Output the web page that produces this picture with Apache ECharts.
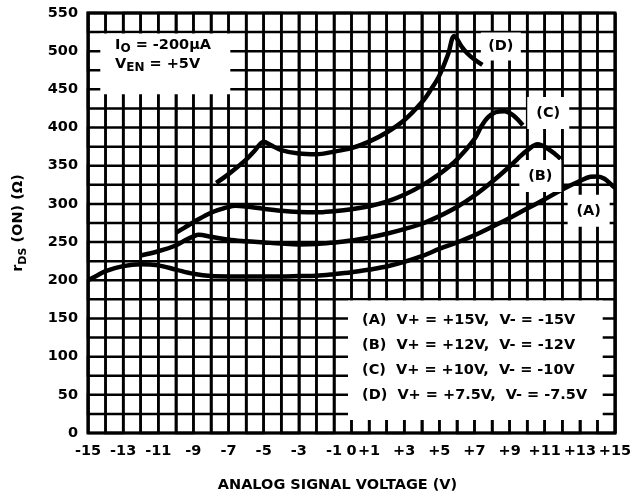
<!DOCTYPE html>
<html>
<head>
<meta charset="utf-8">
<script src="https://cdn.jsdelivr.net/npm/echarts@6/dist/echarts.min.js"></script>
<style>html,body{margin:0;padding:0;background:#fff}#c{width:636px;height:498px}</style>
</head>
<body>
<div id="c"></div>
<script>
// ---- data ----
const xTickLabels = ['-15','-13','-11','-9','-7','-5','-3','-1','0','+1','+3','+5','+7','+9','+11','+13','+15'];
const yTickLabels = ['0','50','100','150','200','250','300','350','400','450','500','550'];

const curveA = [[-15,200],[-14.5,206],[-14,212],[-13,218.5],[-12,221],[-11,219.5],[-10,214],[-9,208.5],[-8,205.5],[-7,205],[-6,205],[-5,205],[-4,205],[-3,205.5],[-2,206],[-1,208],[0,210.5],[1,214],[2,218],[3,224],[4,231.5],[5,241],[6,249.5],[7,259],[8,270],[9,281.5],[10,294],[11,306],[12,319],[13,330],[13.6,335.5],[14,336],[14.4,333],[14.8,325],[15,321]];
const curveB = [[-12,232.5],[-11,238],[-10,245.5],[-9.5,252],[-9,257.5],[-8.7,259.5],[-8,257],[-7,253],[-6,251],[-5,249.5],[-4,248],[-3,247],[-2,247.5],[-1,249.5],[0,252],[1,256],[2,261],[3,267],[4,274],[5,284],[6,296],[7,311],[8,329],[9,349],[9.5,360],[10,370],[10.6,378],[11.2,372],[11.6,365],[11.9,359]];
const curveC = [[-10,262],[-9.5,269],[-9,276],[-8,288.5],[-7,296],[-6.6,297.5],[-6,296.5],[-5,293.5],[-4,291],[-3,289.5],[-2,289],[-1,290.5],[0,293],[1,297],[2,303],[3,312],[4,324],[5,339],[6,358],[7,385],[7.4,402],[7.75,413],[8.2,420],[8.7,421.5],[9.2,416],[9.75,403]];
const curveD = [[-7.7,327.5],[-7,339],[-6,358],[-5.5,370],[-5,381.5],[-4.6,377],[-4,370.5],[-3,366],[-2,365],[-1,368.5],[0,373],[1,381.5],[2,393.5],[3,409.5],[4,433],[4.5,449],[5,468],[5.5,496],[5.85,520],[6.3,505],[6.6,497],[7,489],[7.45,482]];

const curveNames = ['(A)','(B)','(C)','(D)'];
const curveLabelAt = [[13.5,291],[10.75,336.5],[11.2,419],[8.5,506]];
const legendLines = ['(A)  V+ = +15V,  V- = -15V','(B)  V+ = +12V,  V- = -12V','(C)  V+ = +10V,  V- = -10V','(D)  V+ = +7.5V,  V- = -7.5V'];
const infoBoxArea = [[-14.3,523],[-6.9,443.5]];
const legendBoxArea = [[-0.2,173.5],[14.3,17]];

// axis ranges / grid spacing
const xMin = -15, xMax = 15, xStep = 1;
const yMin = 0, yMax = 550, yStep = 25;

// ---- chart ----
const F = 'DejaVu Sans';
const FS = 14.5;
const GW = 2.5;
const chart = echarts.init(document.getElementById('c'));
const xMap = {}; xTickLabels.forEach(s => { xMap[Number(s)] = s; });
const yMap = {}; yTickLabels.forEach(s => { yMap[Number(s)] = s; });

const xTicks = [];
for (let v = xMin; v <= xMax; v += xStep) xTicks.push(v);
const yTicks = [];
for (let v = yMin; v <= yMax; v += yStep) yTicks.push(v);

const lineSeries = [curveA, curveB, curveC, curveD].map((d, i) => ({
  type: 'line', name: curveNames[i], data: d, showSymbol: false, smooth: 0.35,
  lineStyle: {color: '#000', width: 4.5}, z: 3, animation: false
}));

chart.setOption({
  animation: false,
  backgroundColor: '#fff',
  grid: {left: 88, right: 21, top: 13, bottom: 65, show: false},
  xAxis: {
    type: 'value', min: xMin, max: xMax, interval: xStep,
    name: 'ANALOG SIGNAL VOLTAGE (V)', nameLocation: 'middle', nameGap: 45,
    nameTextStyle: {fontFamily: F, fontWeight: 'bold', fontSize: FS, color: '#000', padding: [0, 28, 0, 0]},
    axisLine: {show: false},
    axisTick: {show: false},
    axisLabel: {margin: 11, fontFamily: F, fontWeight: 'bold', fontSize: FS, color: '#000',
      formatter: v => (xMap[v] !== undefined ? xMap[v] : '')},
    splitLine: {show: true, lineStyle: {color: '#000', width: GW, type: 'solid'}}
  },
  yAxis: {
    type: 'value', min: yMin, max: yMax, interval: yStep,
    name: '{r|r}{s|DS}{m| (ON) (Ω)}', nameLocation: 'middle', nameGap: 59,
    nameTextStyle: {
      rich: {
        r: {fontFamily: F, fontWeight: 'bold', fontSize: FS, color: '#000', lineHeight: 22, verticalAlign: 'middle'},
        s: {fontFamily: F, fontWeight: 'bold', fontSize: 11, color: '#000', lineHeight: 10, verticalAlign: 'bottom'},
        m: {fontFamily: F, fontWeight: 'bold', fontSize: FS, color: '#000', lineHeight: 22, verticalAlign: 'middle'}
      }
    },
    axisLine: {show: false},
    axisTick: {show: false},
    axisLabel: {margin: 10, fontFamily: F, fontWeight: 'bold', fontSize: FS, color: '#000',
      formatter: v => (yMap[v] !== undefined ? yMap[v] : '')},
    splitLine: {show: false}
  },
  series: lineSeries
});

const px = p => chart.convertToPixel({gridIndex: 0}, p);
function areaRect(area) {
  const p1 = px(area[0]), p2 = px(area[1]);
  return {x: Math.min(p1[0], p2[0]), y: Math.min(p1[1], p2[1]), width: Math.abs(p2[0] - p1[0]), height: Math.abs(p2[1] - p1[1])};
}

// vertical grid lines as one zig-zag path through all x steps (joins run along the frame)
const vPts = [];
xTicks.forEach((v, i) => {
  const a = px([v, yMin]), b = px([v, yMax]);
  if (i % 2 === 0) { vPts.push([a[0], a[1]], [b[0], b[1]]); }
  else { vPts.push([b[0], b[1]], [a[0], a[1]]); }
});
// horizontal grid lines likewise
const hPts = [];
yTicks.forEach((v, i) => {
  const a = px([xMin, v]), b = px([xMax, v]);
  if (i % 2 === 0) { hPts.push([a[0], a[1]], [b[0], b[1]]); }
  else { hPts.push([b[0], b[1]], [a[0], a[1]]); }
});

const gridEls = [
  {type: 'polyline', z: 0, silent: true, shape: {points: vPts}, style: {stroke: '#000', lineWidth: GW, fill: null}},
  {type: 'polyline', z: 0, silent: true, shape: {points: hPts}, style: {stroke: '#000', lineWidth: GW, fill: null}}
];

// curve name tags (white patches with text) at data positions
const tagEls = [];
curveNames.forEach((n, i) => {
  const c = px(curveLabelAt[i]);
  const w = i === 3 ? 40 : 42, h = i === 3 ? 28 : 32;
  tagEls.push({type: 'rect', z: 6, silent: true, shape: {x: c[0] - w / 2, y: c[1] - h / 2, width: w, height: h}, style: {fill: '#fff'}});
  tagEls.push({type: 'text', z: 10, silent: true, x: c[0], y: c[1], style: {text: n, align: 'center', verticalAlign: 'middle',
    fontFamily: F, fontWeight: 'bold', fontSize: FS, fill: '#000'}});
});

chart.setOption({
  graphic: gridEls.concat([
    {type: 'rect', z: 6, silent: true, shape: areaRect(infoBoxArea), style: {fill: '#fff'}},
    {type: 'rect', z: 6, silent: true, shape: areaRect(legendBoxArea), style: {fill: '#fff'}},
    {type: 'rect', z: 8, silent: true, shape: areaRect([[xMin, yMax], [xMax, yMin]]), style: {fill: 'none', stroke: '#000', lineWidth: 3}},
    {type: 'text', left: 115, top: 38, z: 10, style: {
      text: '{m|I}{s|O}{m| = -200µA}\n{m|V}{s|EN}{m| = +5V}',
      rich: {
        m: {fontFamily: F, fontWeight: 'bold', fontSize: FS, fill: '#000', lineHeight: 19, verticalAlign: 'middle'},
        s: {fontFamily: F, fontWeight: 'bold', fontSize: 12, fill: '#000', lineHeight: 10, verticalAlign: 'bottom'}
      }}},
    {type: 'text', left: 362, top: 307.5, z: 10, style: {
      text: legendLines.join('\n'), fontFamily: F, fontWeight: 'bold', fontSize: FS, lineHeight: 25, fill: '#000'}}
  ]).concat(tagEls)
});
</script>
</body>
</html>
